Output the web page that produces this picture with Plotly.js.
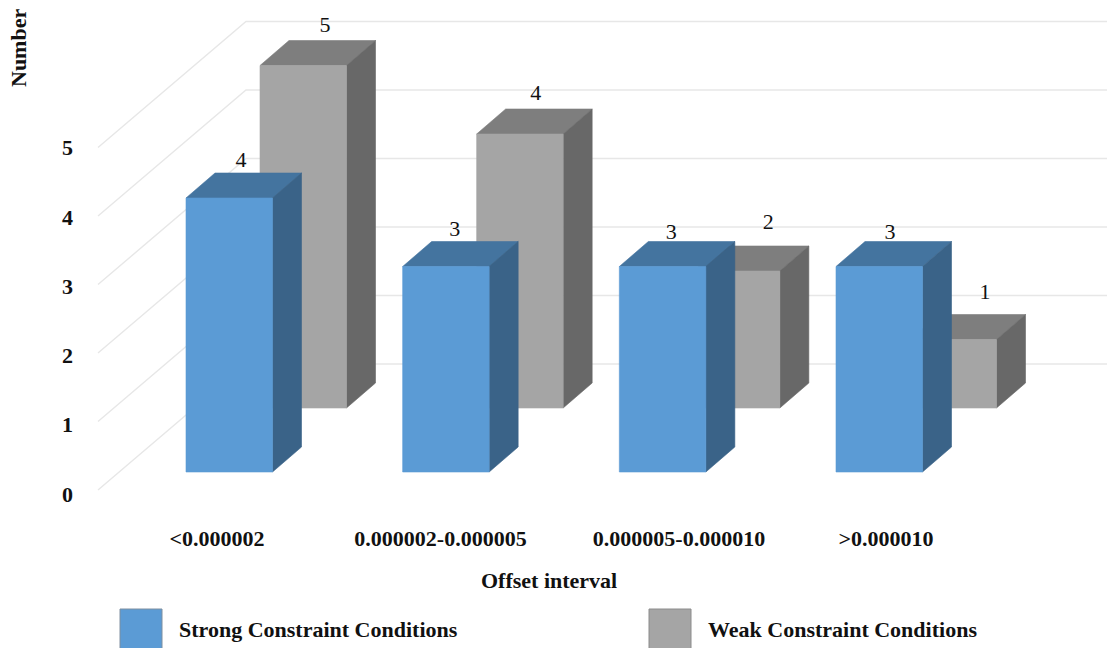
<!DOCTYPE html>
<html>
<head>
<meta charset="utf-8">
<script src="https://cdn.plot.ly/plotly-3.0.1.min.js"></script>
<style>html,body{margin:0;padding:0;background:#fff;overflow:hidden}</style>
</head>
<body>
<div id="chart" style="width:1107px;height:648px"></div>
<script>
// Chart content
const categories = ['<0.000002', '0.000002-0.000005', '0.000005-0.000010', '>0.000010'];
const strongValues = [4, 3, 3, 3];
const weakValues = [5, 4, 2, 1];
const valueTicks = [0, 1, 2, 3, 4, 5];
const strongName = 'Strong Constraint Conditions';
const weakName = 'Weak Constraint Conditions';

// Page geometry of the oblique box projection
const W = 1107, H = 648;
const plotLeft = 74, plotBottom = 523;
const slotPx = 216.67, unitPx = 68.5;
const originX = 186, originY = 472;     // front-left foot of the first front bar
const barPx = 86.5;
const depthX = 29, depthY = 25;         // how far a box recedes
const rowX = 74, rowY = 64;             // offset of the rear row of boxes
const wallY = 108, wallX = 60, floorX = 88, floorDrop = 18; // back wall and front floor edge relative to origin

const dx = px => px / slotPx;
const dy = px => px / unitPx;

const FONT = '"Liberation Serif", "Times New Roman", serif';
const INK = '#111111';

function faces(values, offX, offY) {
  const front = {x: [], y: []}, top = {x: [], y: []}, side = {x: [], y: []};
  const w = dx(barPx), dX = dx(depthX), dY = dy(depthY);
  const oX = dx(offX), oY = dy(offY);
  values.forEach((v, i) => {
    const l = i + oX, r = l + w, b = oY, t = v + oY;
    front.x.push(l, r, r, l, l, null); front.y.push(b, b, t, t, b, null);
    top.x.push(l, r, r + dX, l + dX, l, null); top.y.push(t, t, t + dY, t + dY, t, null);
    side.x.push(r, r + dX, r + dX, r, r, null); side.y.push(b, b + dY, t + dY, t, b, null);
  });
  return {front, top, side};
}

function poly(shape, color, name) {
  return {x: shape.x, y: shape.y, name, mode: 'lines', fill: 'toself', fillcolor: color,
          line: {color, width: 0.6}, hoverinfo: 'skip', showlegend: false};
}

// Floor diagonals and back-wall rules
const grid = {x: [], y: []};
valueTicks.forEach(v => {
  grid.x.push(dx(-floorX), dx(wallX), dx(W - originX), null);
  grid.y.push(v - dy(floorDrop), v + dy(wallY), v + dy(wallY), null);
});

const weak = faces(weakValues, rowX, rowY);
const strong = faces(strongValues, 0, 0);

// Value captions sit above each box; the small shifts keep them clear of neighbours
const strongShift = [[55, 37], [52, 36], [52, 33], [54, 33]];
const weakShift = [[65, 39], [59, 40], [75, 48], [75, 46]];
const labelTrace = (vals, shift, offX, offY) => ({
  x: vals.map((v, i) => i + dx(offX + shift[i][0])),
  y: vals.map((v, i) => v + dy(offY + shift[i][1])),
  text: vals.map(String), mode: 'text', textposition: 'middle center',
  textfont: {family: FONT, size: 22, color: INK}, hoverinfo: 'skip', showlegend: false
});

const tickProxy = {x: [0], y: [0], yaxis: 'y2', mode: 'markers', marker: {opacity: 0},
                   hoverinfo: 'skip', showlegend: false};

const traces = [
  {x: grid.x, y: grid.y, mode: 'lines', line: {color: '#e7e7e7', width: 1.4}, hoverinfo: 'skip', showlegend: false},
  poly(weak.top, '#7e7e7e', weakName), poly(weak.side, '#686868', weakName), poly(weak.front, '#a5a5a5', weakName),
  poly(strong.top, '#44749f', strongName), poly(strong.side, '#3a6388', strongName), poly(strong.front, '#5b9bd5', strongName),
  labelTrace(strongValues, strongShift, 0, 0),
  labelTrace(weakValues, weakShift, rowX, rowY),
  tickProxy
];

// Horizontal axis labels are placed by hand-tuned centres under each group
const labelCentres = [217, 440.5, 679, 886];

const xp = px => (px - plotLeft) / (W - plotLeft);
const yp = py => (plotBottom - py) / plotBottom;

function swatch(x0, x1, color, edge) {
  return {type: 'rect', xref: 'paper', yref: 'paper', x0: xp(x0), x1: xp(x1), y0: yp(609), y1: yp(650),
          fillcolor: color, line: {color: edge, width: 1}};
}
function caption(text, px, py, anchor, size, angle) {
  return {text, xref: 'paper', yref: 'paper', x: xp(px), y: yp(py), xanchor: anchor, yanchor: 'middle',
          showarrow: false, textangle: angle || 0, font: {family: FONT, size, color: INK}};
}

const tickFont = {family: FONT, size: 22, color: INK};

const layout = {
  width: W, height: H, paper_bgcolor: '#fff', plot_bgcolor: 'rgba(0,0,0,0)',
  margin: {l: plotLeft, r: 0, t: 0, b: H - plotBottom, pad: 0},
  showlegend: false,
  xaxis: {
    range: [dx(plotLeft - originX), dx(W - originX)], showgrid: false, zeroline: false, showline: false,
    tickmode: 'array', tickvals: labelCentres.map(c => dx(c - originX)),
    ticktext: categories.map(c => '<b>' + c.replace('<', '&lt;').replace('>', '&gt;') + '</b>'),
    ticks: '', tickfont: tickFont, tickangle: 0
  },
  yaxis: {
    range: [dy(originY - plotBottom), dy(originY)], showgrid: false, zeroline: false, showline: false,
    showticklabels: false, ticks: ''
  },
  yaxis2: {
    overlaying: 'y', side: 'left', anchor: 'x',
    range: [(494 - plotBottom) / 69.3, 494 / 69.3], showgrid: false, zeroline: false, showline: false,
    tickmode: 'array', tickvals: valueTicks, ticktext: valueTicks.map(v => '<b>' + v + '</b>'),
    ticks: '', tickfont: tickFont
  },
  shapes: [swatch(120, 162, '#5b9bd5', '#7f8fa0'), swatch(649, 691, '#a5a5a5', '#8c8c8c')],
  annotations: [
    caption('<b>Number</b>', 19, 48, 'center', 22, -90),
    caption('<b>Offset interval</b>', 549, 580, 'center', 22),
    caption('<b>' + strongName + '</b>', 177, 629, 'left', 22),
    caption('<b>' + weakName + '</b>', 706, 629, 'left', 22)
  ]
};

Plotly.newPlot('chart', traces, layout, {staticPlot: true, displayModeBar: false});
</script>
</body>
</html>
